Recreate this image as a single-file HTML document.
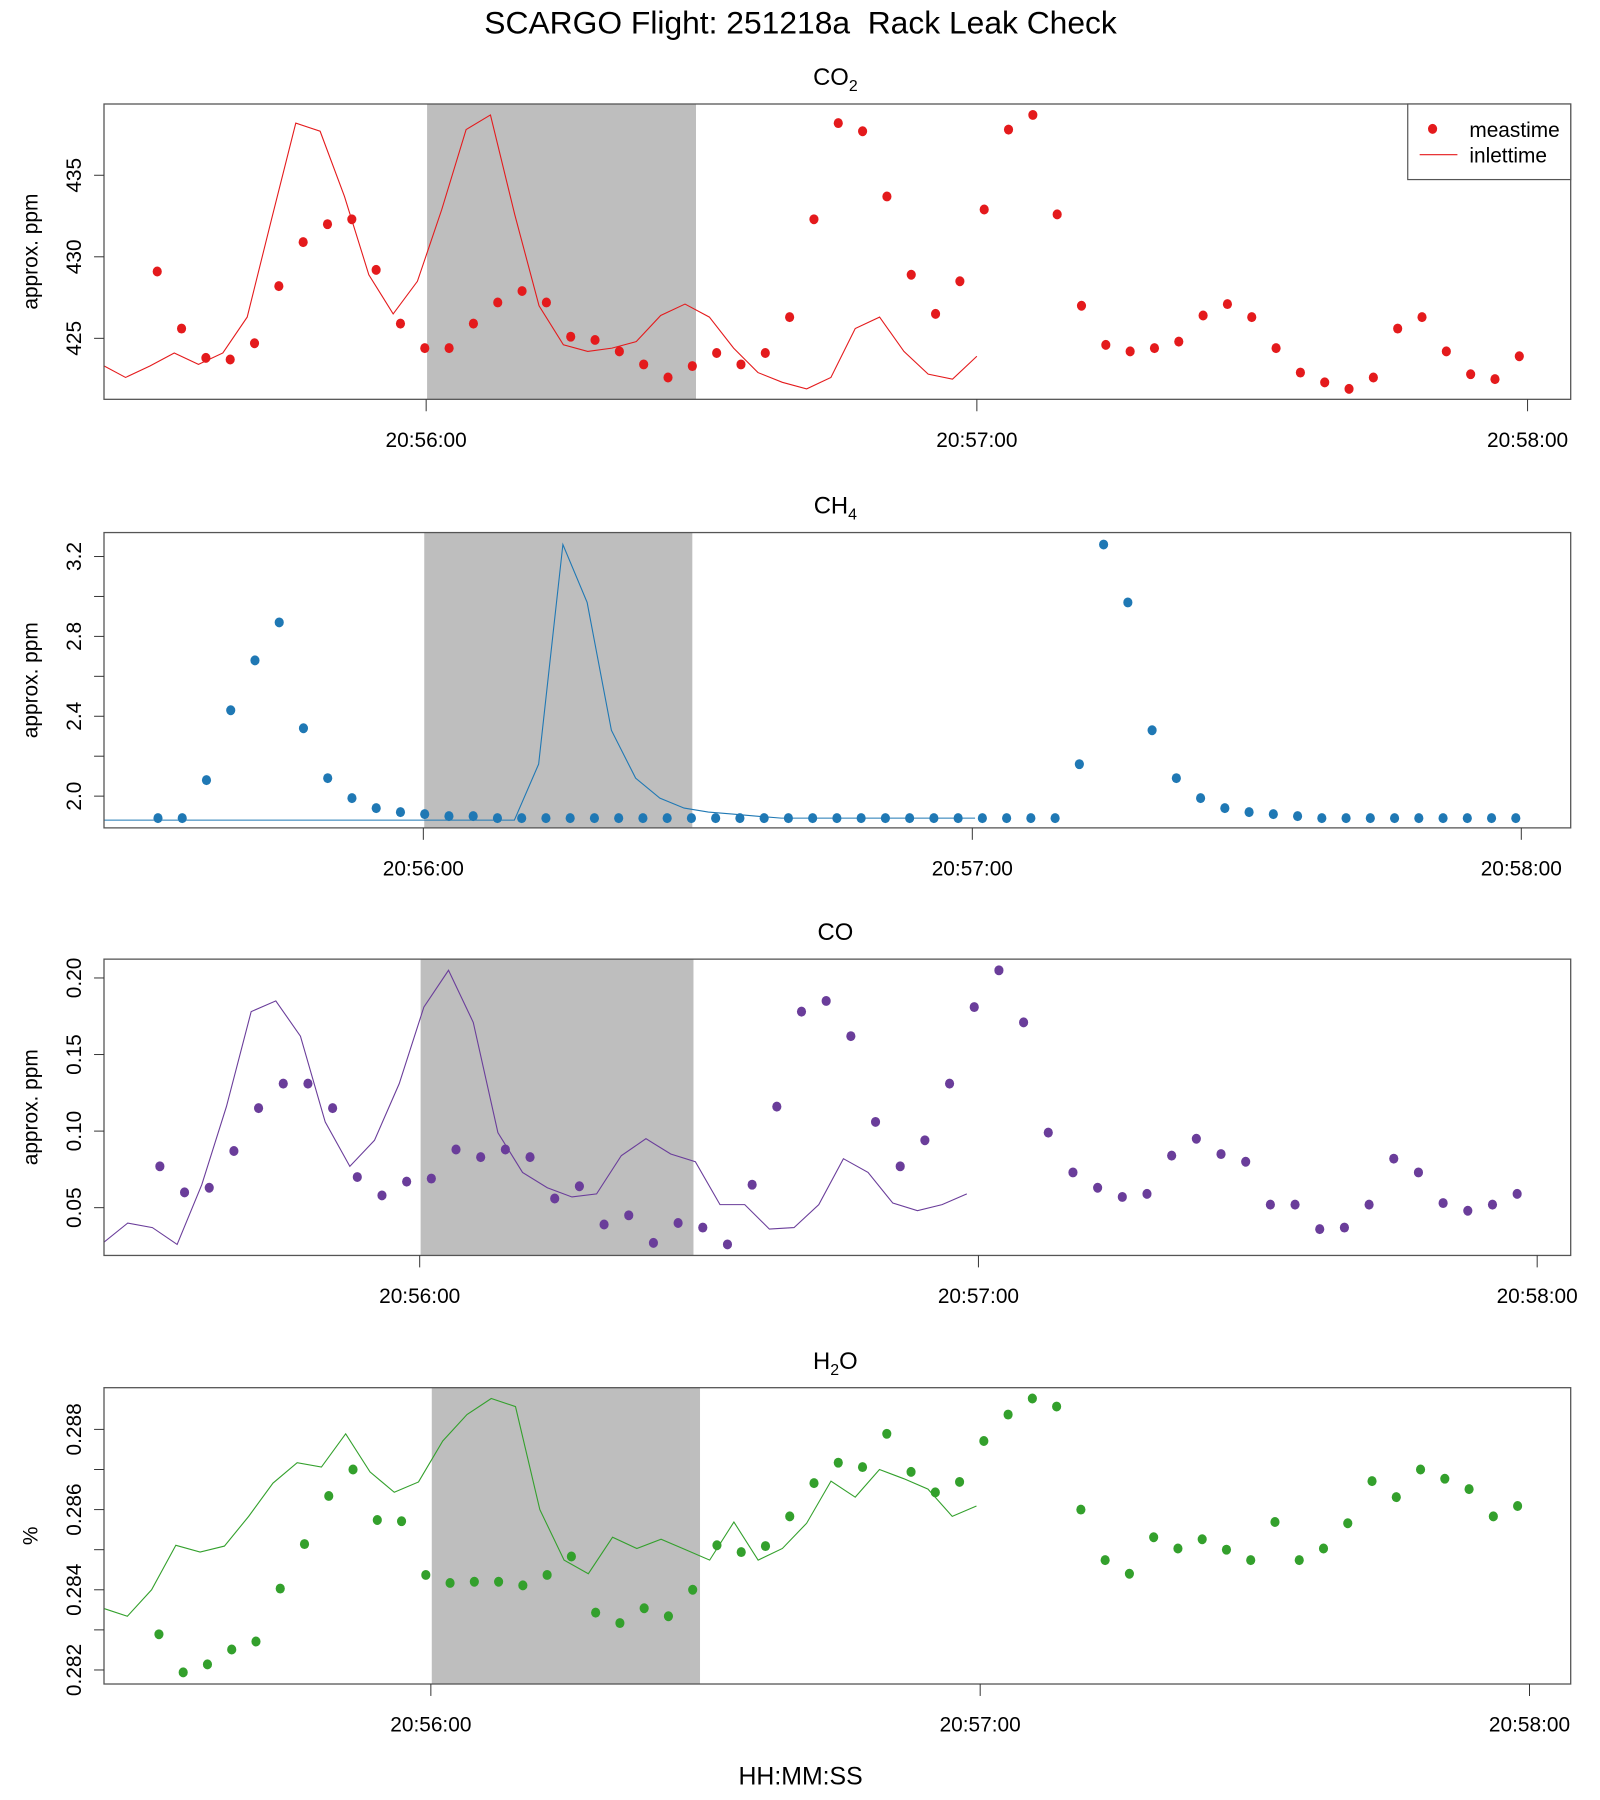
<!DOCTYPE html>
<html><head><meta charset="utf-8"><style>
html,body{margin:0;padding:0;background:#fff}
svg{display:block;font-family:"Liberation Sans",sans-serif}
</style></head><body>
<svg id="chart" width="1600" height="1800" viewBox="0 0 1600 1800" xmlns="http://www.w3.org/2000/svg">
<rect width="1600" height="1800" fill="#fff"/>
<g transform="matrix(0.9937,0,0,0.99434,0.655,0.59)">
<text x="805" y="33" font-size="32" text-anchor="middle" fill="#000" xml:space="preserve">SCARGO Flight: 251218a  Rack Leak Check</text>
<text x="805" y="1794" font-size="25" text-anchor="middle" fill="#000">HH:MM:SS</text>
<g id="panels"></g>
</g>
</svg>
<script>
// sample times (s relative to 20:56:00) of measurements
const sampleTimes = [-29.3,-26.65,-24.0,-21.35,-18.7,-16.05,-13.4,-10.75,-8.1,-5.45,-2.8,-0.15,2.5,5.15,7.8,10.45,13.1,15.75,18.4,21.05,23.7,26.35,29.0,31.65,34.3,36.95,39.6,42.25,44.9,47.55,50.2,52.85,55.5,58.15,60.8,63.45,66.1,68.75,71.4,74.05,76.7,79.35,82.0,84.65,87.3,89.95,92.6,95.25,97.9,100.55,103.2,105.85,108.5,111.15,113.8,116.45,119.1];
const xTickSecs = [0, 60, 120];
const xTickLabels = ["20:56:00", "20:57:00", "20:58:00"];
const bandStart = 0.1, bandEnd = 29.4;
const lagSec = 59.1;
const lineStartIndex = 20;

const co2Meas = [429.1,425.6,423.8,423.7,424.7,428.2,430.9,432.0,432.3,429.2,425.9,424.4,424.4,425.9,427.2,427.9,427.2,425.1,424.9,424.2,423.4,422.6,423.3,424.1,423.4,424.1,426.3,432.3,438.2,437.7,433.7,428.9,426.5,428.5,432.9,437.8,438.7,432.6,427.0,424.6,424.2,424.4,424.8,426.4,427.1,426.3,424.4,422.9,422.3,421.9,422.6,425.6,426.3,424.2,422.8,422.5,423.9];
const co2Inlet = [423.4,422.6,423.3,424.1,423.4,424.1,426.3,432.3,438.2,437.7,433.7,428.9,426.5,428.5,432.9,437.8,438.7,432.6,427.0,424.6,424.2,424.4,424.8,426.4,427.1,426.3,424.4,422.9,422.3,421.9,422.6,425.6,426.3,424.2,422.8,422.5,423.9];
const co2Ticks = [425,430,435];

const ch4Meas = [1.89,1.89,2.08,2.43,2.68,2.87,2.34,2.09,1.99,1.94,1.92,1.91,1.90,1.90,1.89,1.89,1.89,1.89,1.89,1.89,1.89,1.89,1.89,1.89,1.89,1.89,1.89,1.89,1.89,1.89,1.89,1.89,1.89,1.89,1.89,1.89,1.89,1.89,2.16,3.26,2.97,2.33,2.09,1.99,1.94,1.92,1.91,1.90,1.89,1.89,1.89,1.89,1.89,1.89,1.89,1.89,1.89];
const ch4Inlet = [1.88,1.88,1.88,1.88,1.88,1.88,1.88,1.88,1.88,1.88,1.88,1.88,1.88,1.88,1.88,1.88,1.88,1.88,2.16,3.26,2.97,2.33,2.09,1.99,1.94,1.92,1.91,1.90,1.89,1.89,1.89,1.89,1.89,1.89,1.89,1.89,1.89];
const ch4Ticks = [2.0,2.2,2.4,2.6,2.8,3.0,3.2];
const ch4TickLabels = ["2.0","","2.4","","2.8","","3.2"];
const ch4TimeShift = 0.3;

const coMeas = [0.077,0.060,0.063,0.087,0.115,0.131,0.131,0.115,0.070,0.058,0.067,0.069,0.088,0.083,0.088,0.083,0.056,0.064,0.039,0.045,0.027,0.040,0.037,0.026,0.065,0.116,0.178,0.185,0.162,0.106,0.077,0.094,0.131,0.181,0.205,0.171,0.099,0.073,0.063,0.057,0.059,0.084,0.095,0.085,0.080,0.052,0.052,0.036,0.037,0.052,0.082,0.073,0.053,0.048,0.052,0.059];
const coInlet = [0.027,0.040,0.037,0.026,0.065,0.116,0.178,0.185,0.162,0.106,0.077,0.094,0.131,0.181,0.205,0.171,0.099,0.073,0.063,0.057,0.059,0.084,0.095,0.085,0.080,0.052,0.052,0.036,0.037,0.052,0.082,0.073,0.053,0.048,0.052,0.059];
const coTicks = [0.05,0.10,0.15,0.20];
const coTimeShift = 1.4;

const h2oMeas = [0.28289,0.28194,0.28214,0.28251,0.28271,0.28403,0.28514,0.28634,0.28700,0.28574,0.28571,0.28437,0.28417,0.28420,0.28420,0.28411,0.28437,0.28483,0.28343,0.28317,0.28354,0.28334,0.28400,0.28511,0.28494,0.28509,0.28583,0.28666,0.28717,0.28706,0.28789,0.28694,0.28643,0.28669,0.28771,0.28837,0.28877,0.28857,0.28600,0.28474,0.28440,0.28531,0.28503,0.28526,0.28500,0.28474,0.28569,0.28474,0.28503,0.28566,0.28671,0.28631,0.28700,0.28677,0.28651,0.28583,0.28609];
const h2oInlet = [0.28354,0.28334,0.28400,0.28511,0.28494,0.28509,0.28583,0.28666,0.28717,0.28706,0.28789,0.28694,0.28643,0.28669,0.28771,0.28837,0.28877,0.28857,0.28600,0.28474,0.28440,0.28531,0.28503,0.28526,0.28500,0.28474,0.28569,0.28474,0.28503,0.28566,0.28671,0.28631,0.28700,0.28677,0.28651,0.28583,0.28609];
const h2oTicks = [0.282,0.283,0.284,0.285,0.286,0.287,0.288];
const h2oTickLabels = ["0.282","","0.284","","0.286","","0.288"];
const h2oTimeShift = -0.4;

const NS = "http://www.w3.org/2000/svg";
const root = document.getElementById("panels");
function mk(tag, attrs, parent){const e=document.createElementNS(NS,tag);for(const k in attrs)e.setAttribute(k,attrs[k]);(parent||root).appendChild(e);return e;}

const panels = [
 {key:"co2", sub:"2", base:"CO", color:"#e41a1c", L:104,R:1580,T:104,B:401, xmin:-35.1,xmax:124.7, ymin:421.26,ymax:439.37, meas:co2Meas, inlet:co2Inlet, ticks:co2Ticks, labels:co2Ticks.map(String), shift:0, ytitle:"approx. ppm", legend:true},
 {key:"ch4", sub:"4", base:"CH", color:"#1f78b4", L:104,R:1580,T:535,B:832, xmin:-34.9,xmax:125.4, ymin:1.841,ymax:3.320, meas:ch4Meas, inlet:ch4Inlet, ticks:ch4Ticks, labels:ch4TickLabels, shift:ch4TimeShift, ytitle:"approx. ppm"},
 {key:"co", sub:"", base:"CO", color:"#6a3d9a", L:104,R:1580,T:964,B:1262, xmin:-33.9,xmax:123.6, ymin:0.0188,ymax:0.2123, meas:coMeas, inlet:coInlet, ticks:coTicks, labels:coTicks.map(v=>v.toFixed(2)), shift:coTimeShift, ytitle:"approx. ppm"},
 {key:"h2o", sub:"2", base:"H", tail:"O", color:"#33a02c", L:104,R:1580,T:1395,B:1693, xmin:-35.7,xmax:124.5, ymin:0.28165,ymax:0.28904, meas:h2oMeas, inlet:h2oInlet, ticks:h2oTicks, labels:h2oTickLabels, shift:h2oTimeShift, ytitle:"%"}
];

panels.forEach(p=>{
  const g = mk("g",{});
  
  
  const xs = t => p.L + (t - p.xmin)/(p.xmax - p.xmin)*(p.R - p.L);
  const ys = v => p.B - (v - p.ymin)/(p.ymax - p.ymin)*(p.B - p.T);
  const cid = "clip-" + p.key;
  const cp = mk("clipPath",{id:cid},g); mk("rect",{x:p.L,y:p.T,width:p.R-p.L,height:p.B-p.T},cp);
  const tt = mk("text",{x:(p.L+p.R)/2-2,y:p.T-19,"font-size":24,"text-anchor":"middle",fill:"#000"},g);
  
  
  tt.appendChild(document.createTextNode(p.base));
  if(p.sub){const s=mk("tspan",{"font-size":16,dy:6},tt);s.textContent=p.sub;}
  if(p.tail){const s=mk("tspan",{dy:-6},tt);s.textContent=p.tail;}
  const band = mk("rect",{x:xs(bandStart),y:p.T,width:xs(bandEnd)-xs(bandStart),height:p.B-p.T,fill:"#bebebe"},g);
  
  
  const pts = p.inlet.map((v,i)=>xs(sampleTimes[i+lineStartIndex]+p.shift-lagSec).toFixed(1)+","+ys(v).toFixed(1)).join(" ");
  const ln = mk("polyline",{points:pts,fill:"none",stroke:p.color,"stroke-width":1.1,"clip-path":"url(#"+cid+")"},g);
  
  
  p.meas.forEach((v,i)=>{
    const c = mk("ellipse",{cx:xs(sampleTimes[i]+p.shift),cy:ys(v),rx:4.6,ry:5,fill:p.color},g);
    
    
  });
  const fr = mk("rect",{x:p.L,y:p.T,width:p.R-p.L,height:p.B-p.T,fill:"none",stroke:"#555","stroke-width":1.3},g);
  
  
  xTickSecs.forEach((t,i)=>{
    const x = xs(t);
    mk("line",{x1:x,y1:p.B,x2:x,y2:p.B+12,stroke:"#333","stroke-width":1},g);
    const lb = mk("text",{x:x,y:p.B+48,"font-size":21,"text-anchor":"middle",fill:"#000"},g);
    
    
    lb.textContent = xTickLabels[i];
  });
  p.ticks.forEach((v,i)=>{
    const y = ys(v);
    mk("line",{x1:p.L-10,y1:y,x2:p.L,y2:y,stroke:"#333","stroke-width":1},g);
    if(p.labels[i]){
      const lb = mk("text",{x:0,y:0,"font-size":21,"text-anchor":"middle",fill:"#000",transform:"translate(81,"+y+") rotate(-90)"},g);
      
      
      lb.textContent = p.labels[i];
    }
  });
  const yt = mk("text",{x:0,y:0,"font-size":21,"text-anchor":"middle",fill:"#000",transform:"translate(37,"+((p.T+p.B)/2)+") rotate(-90)"},g);
  
  
  yt.textContent = p.ytitle;
  if(p.legend){
    const lg = mk("g",{},g);
    
    
    mk("rect",{x:1416,y:104,width:164,height:76,fill:"#fff",stroke:"#555","stroke-width":1.2},lg);
    mk("ellipse",{cx:1441,cy:129,rx:4.6,ry:5,fill:p.color},lg);
    mk("line",{x1:1428,y1:155,x2:1466,y2:155,stroke:p.color,"stroke-width":1.1},lg);
    const t1 = mk("text",{x:1478,y:137,"font-size":21,fill:"#000"},lg);
    
    
    t1.textContent = "meastime";
    const t2 = mk("text",{x:1478,y:163,"font-size":21,fill:"#000"},lg);
    
    
    t2.textContent = "inlettime";
  }
});
</script>
</body></html>
